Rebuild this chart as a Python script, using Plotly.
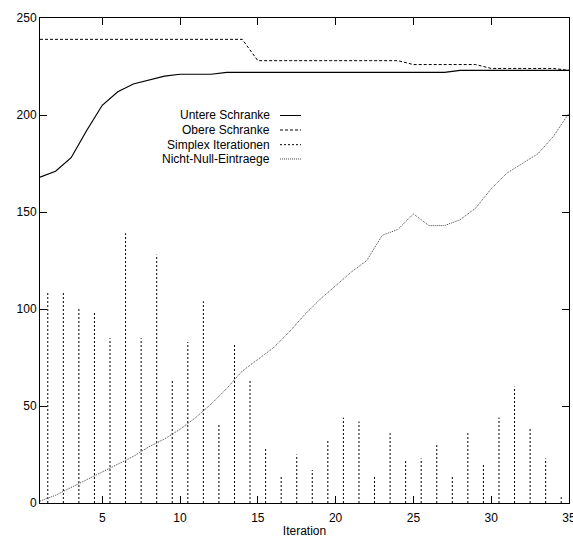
import plotly.graph_objects as go

# Data
iterations = list(range(1, 36))
untere_schranke = [168, 171, 178, 192, 205, 212, 216, 218, 220, 221, 221, 221, 222, 222,
                   222, 222, 222, 222, 222, 222, 222, 222, 222, 222, 222, 222, 222,
                   223, 223, 223, 223, 223, 223, 223, 223]
obere_schranke = [239, 239, 239, 239, 239, 239, 239, 239, 239, 239, 239, 239, 239, 239,
                  228, 228, 228, 228, 228, 228, 228, 228, 228, 228,
                  226, 226, 226, 226, 226,
                  224, 224, 224, 224, 224, 223]
simplex_x = [i + 0.5 for i in range(1, 35)]
simplex_iter = [109, 109, 101, 98, 85, 139, 85, 128, 63, 83, 104, 41, 82, 63, 28, 14, 25,
                17, 33, 44, 42, 14, 36, 22, 23, 31, 14, 36, 20, 44, 60, 39, 23, 3]
nicht_null = [1, 4, 8, 12, 16, 20, 24, 29, 33, 38, 44, 51, 59, 68, 74, 80, 88, 97,
              105, 112, 119, 125, 138, 141, 149, 143, 143, 146, 152, 162, 170, 175, 180,
              189, 201]
x_ticks = [5, 10, 15, 20, 25, 30, 35]
y_ticks = [0, 50, 100, 150, 200, 250]
legend_labels = ["Untere Schranke", "Obere Schranke", "Simplex Iterationen", "Nicht-Null-Eintraege"]

FONT = "Liberation Sans, Arial, Helvetica, sans-serif"
DASH_UP = "3px,2px"
DASH_IMP = "2px,2px"
DASH_NN = "1px,1px"

# impulses
imp_x, imp_y = [], []
for xv, yv in zip(simplex_x, simplex_iter):
    imp_x += [xv, xv, None]
    imp_y += [0, yv, None]

fig = go.Figure()
fig.add_trace(go.Scatter(x=imp_x, y=imp_y, mode="lines",
                         line=dict(color="black", width=1, dash=DASH_IMP), showlegend=False))
fig.add_trace(go.Scatter(x=iterations, y=nicht_null, mode="lines",
                         line=dict(color="#444444", width=1, dash=DASH_NN), showlegend=False))
fig.add_trace(go.Scatter(x=iterations, y=obere_schranke, mode="lines",
                         line=dict(color="black", width=1, dash=DASH_UP), showlegend=False))
fig.add_trace(go.Scatter(x=iterations, y=untere_schranke, mode="lines",
                         line=dict(color="black", width=1.2), showlegend=False))

# Custom legend (gnuplot style: text right-aligned, sample to the right)
leg_y = [0.7990, 0.7691, 0.7388, 0.7093]
leg_dash = ["solid", DASH_UP, DASH_IMP, DASH_NN]
leg_color = ["black", "black", "black", "#444444"]
annotations = []
shapes = []
for lab, yy, d, c in zip(legend_labels, leg_y, leg_dash, leg_color):
    annotations.append(dict(x=0.4386, y=yy, xref="paper", yref="paper", text=lab,
                            showarrow=False, xanchor="right", yanchor="middle",
                            font=dict(family=FONT, size=12, color="black")))
    shapes.append(dict(type="line", xref="paper", yref="paper", x0=0.4537, x1=0.4934,
                       y0=yy, y1=yy, line=dict(color=c, width=1, dash=d)))

fig.update_layout(
    width=573, height=538,
    margin=dict(l=40, r=4, t=18, b=35),
    paper_bgcolor="white", plot_bgcolor="white",
    font=dict(family=FONT, size=12, color="black"),
    annotations=annotations, shapes=shapes,
    showlegend=False,
)
fig.update_xaxes(range=[1, 35], tickvals=x_ticks, ticks="inside", ticklen=7, tickcolor="black",
                 showline=True, linecolor="black", linewidth=1, mirror="ticks",
                 showgrid=False, zeroline=False, ticklabeloverflow="allow", automargin=False,
                 ticklabelstandoff=4,
                 title=dict(text="Iteration", font=dict(size=12), standoff=2))
fig.update_yaxes(range=[0, 250], tickvals=y_ticks, ticks="inside", ticklen=7, tickcolor="black",
                 showline=True, linecolor="black", linewidth=1, mirror="ticks",
                 showgrid=False, zeroline=False, ticklabeloverflow="allow", automargin=False)

fig.write_html("out.html")
